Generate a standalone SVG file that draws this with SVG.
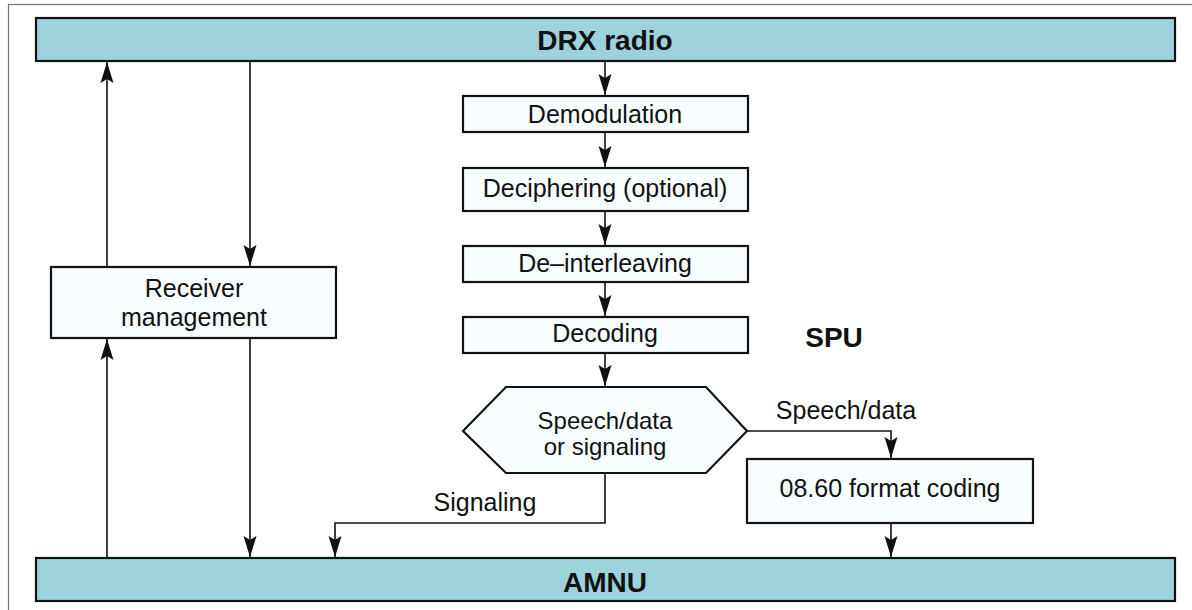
<svg xmlns="http://www.w3.org/2000/svg" width="1192" height="610" viewBox="0 0 1192 610">
<style>
.bar{fill:#9dd2dc;stroke:#111;stroke-width:2.2}
.box{fill:#f8fdff;stroke:#111;stroke-width:2.2}
.t{font-family:"Liberation Sans",Arial,sans-serif;font-size:25px;fill:#111;text-anchor:middle}
.s{font-size:24px}
.b{font-family:"Liberation Sans",Arial,sans-serif;font-weight:bold;font-size:28px;fill:#111;text-anchor:middle}
.c{fill:none;stroke:#111;stroke-width:1.6}
</style>
<defs>
<marker id="ah" markerUnits="userSpaceOnUse" markerWidth="24" markerHeight="16" viewBox="-22 -8 24 16" refX="0" refY="0" orient="auto">
<path d="M0,0 L-21,-6.5 L-17,0 L-21,6.5 Z" fill="#111"/>
</marker>
</defs>
<rect x="8.5" y="4.5" width="1200" height="700" fill="#fff" stroke="#777" stroke-width="1.2"/>
<g id="connectors">
<line class="c" x1="107" y1="267" x2="107" y2="62" marker-end="url(#ah)"/>
<line class="c" x1="107" y1="558" x2="107" y2="339" marker-end="url(#ah)"/>
<line class="c" x1="250" y1="62" x2="250" y2="266" marker-end="url(#ah)"/>
<line class="c" x1="250" y1="339" x2="250" y2="557" marker-end="url(#ah)"/>
<line class="c" x1="605" y1="62" x2="605" y2="95" marker-end="url(#ah)"/>
<line class="c" x1="605" y1="133" x2="605" y2="167" marker-end="url(#ah)"/>
<line class="c" x1="605" y1="212" x2="605" y2="245" marker-end="url(#ah)"/>
<line class="c" x1="605" y1="283" x2="605" y2="316" marker-end="url(#ah)"/>
<line class="c" x1="605" y1="354" x2="605" y2="386" marker-end="url(#ah)"/>
<polyline class="c" points="747,431 891,431 891,458" marker-end="url(#ah)"/>
<line class="c" x1="891" y1="524" x2="891" y2="557" marker-end="url(#ah)"/>
<polyline class="c" points="605,473 605,523 335,523 335,557" marker-end="url(#ah)"/>
<text class="t" x="846" y="419">Speech/data</text>
<text class="t" x="485" y="511">Signaling</text>
</g>
<g id="drx-radio">
<rect class="bar" x="36" y="18" width="1139" height="43"/>
<text class="b" x="605" y="50">DRX radio</text>
</g>
<g id="amnu">
<rect class="bar" x="36" y="558" width="1139" height="43"/>
<text class="b" x="605" y="592">AMNU</text>
</g>
<g id="receiver-management">
<rect class="box" x="51" y="267" width="285" height="71"/>
<text class="t" x="194" y="297">Receiver</text>
<text class="t" x="194" y="326">management</text>
</g>
<g id="demodulation">
<rect class="box" x="463" y="96" width="285" height="36"/>
<text class="t" x="605" y="123">Demodulation</text>
</g>
<g id="deciphering">
<rect class="box" x="463" y="168" width="285" height="43"/>
<text class="t" x="605" y="197">Deciphering (optional)</text>
</g>
<g id="deinterleaving">
<rect class="box" x="463" y="246" width="285" height="36"/>
<text class="t" x="605" y="272">De–interleaving</text>
</g>
<g id="decoding">
<rect class="box" x="463" y="317" width="285" height="36"/>
<text class="t" x="605" y="342">Decoding</text>
</g>
<g id="spu">
<text class="b" x="834" y="347">SPU</text>
</g>
<g id="decision">
<polygon class="box" points="463,431 506,387 706,387 747,431 706,473 506,473"/>
<text class="t s" x="605" y="429">Speech/data</text>
<text class="t s" x="605" y="455">or signaling</text>
</g>
<g id="format-coding">
<rect class="box" x="747" y="459" width="286" height="64"/>
<text class="t" x="890" y="497">08.60 format coding</text>
</g>
</svg>
